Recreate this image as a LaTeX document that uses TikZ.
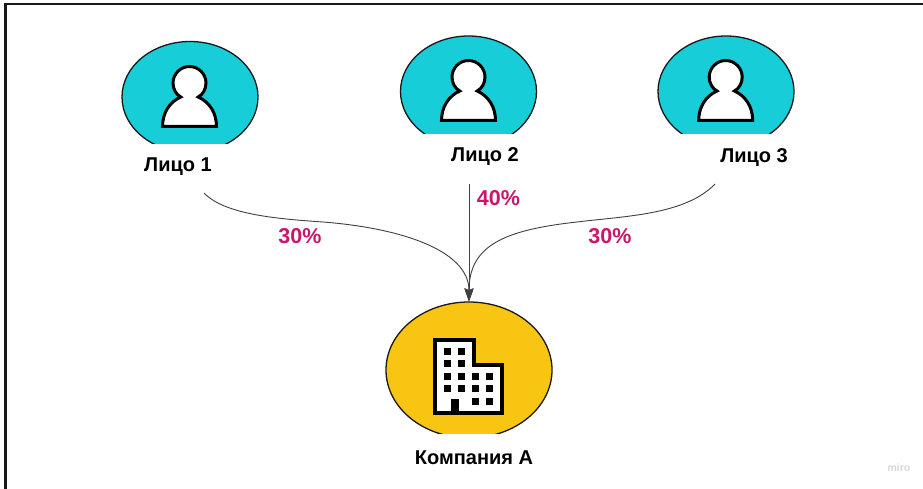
\documentclass[tikz,border=0pt]{standalone}
\usepackage{fontspec}
\setmainfont{Liberation Sans}
\usetikzlibrary{shapes.geometric,arrows.meta}
\definecolor{tealfill}{HTML}{17CDD8}
\definecolor{yellowfill}{HTML}{F9C513}
\definecolor{pct}{HTML}{C9176B}
\definecolor{mirogrey}{HTML}{D6D6DE}
\tikzset{
  x=1pt,y=-1pt,
  headblob/.style={ellipse,draw=black!90,line width=1.3pt,fill=tealfill,inner sep=0pt,minimum width=136pt,minimum height=111pt},
  firmblob/.style={ellipse,draw=black!90,line width=1.3pt,fill=yellowfill,inner sep=0pt,minimum width=166pt,minimum height=136pt},
  lbl/.style={font=\bfseries\fontsize{20}{24}\selectfont,text=black,inner sep=0pt},
  pctlbl/.style={font=\bfseries\fontsize{21.5}{24}\selectfont,text=pct,inner sep=0pt},
  link/.style={draw=black!75,line width=0.9pt,-{Stealth[length=13pt,width=9pt,inset=2pt]}},
  person/.pic={
    \draw[fill=white,line width=3pt,miter limit=4]
      (8.7,32) .. controls (13.5,29.5) and (16.5,24) .. (16.5,18)
      .. controls (16.5,9) and (9,1.5) .. (0,1.5)
      .. controls (-9,1.5) and (-16.5,9) .. (-16.5,18)
      .. controls (-16.5,24) and (-13.5,29.5) .. (-8.7,32)
      .. controls (-20,37) and (-27,48) .. (-27,61.5)
      -- (27,61.5)
      .. controls (27,48) and (20,37) .. (8.7,32) -- cycle;
  },
  winsq/.style={fill=black,draw=none}
}
\begin{document}
\begin{tikzpicture}
\useasboundingbox (0,0) rectangle (923,489);
\fill[white] (0,0) rectangle (923,489);
\draw[line width=2.5pt,black!90] (5.5,489) -- (5.5,4) -- (923,4);

\begin{scope}
  \clip (0,0) rectangle (923,143.5);
  \node[headblob] (e1) at (190,97) {};
\end{scope}
\begin{scope}
  \clip (0,0) rectangle (923,134);
  \node[headblob] (e2) at (468.5,91.5) {};
  \node[headblob] (e3) at (726,91.5) {};
\end{scope}
\begin{scope}
  \clip (0,0) rectangle (923,433.5);
  \node[firmblob] (comp) at (469,370) {};
\end{scope}

\pic at (189.5,65) {person};
\pic at (468.5,59) {person};
\pic at (725.7,59) {person};

% building
\draw[fill=white,line width=4pt,miter limit=4] (435,340) -- (474,340) -- (474,364.5) -- (502,364.5) -- (502,413) -- (435,413) -- cycle;
\foreach \wx/\wy in {447.7/351,461.7/351,447.7/363.3,461.7/363.3,
  447.7/376,461.7/376,475.7/376,489.7/376,
  447.7/388.7,461.7/388.7,475.7/388.7,489.7/388.7,
  475.7/401.7,489.7/401.7}{
  \fill[winsq] (\wx-3.5,\wy-3.5) rectangle (\wx+3.5,\wy+3.5);
}
\fill[winsq] (450.7,398.5) rectangle (459.3,413);

% labels
\node[lbl] (l1) at (178,167) {Лицо 1};
\node[lbl] (l2) at (485,157) {Лицо 2};
\node[lbl] (l3) at (754,158) {Лицо 3};
\node[lbl] (lc) at (474,458) {Компания А};
\node[pctlbl] (p1) at (300,236.5) {30\%};
\node[pctlbl] (p2) at (498.5,198) {40\%};
\node[pctlbl] (p3) at (610,236) {30\%};
\node[font=\bfseries\fontsize{10.5}{12}\selectfont,text=mirogrey,inner sep=0pt] (mark) at (899,468) {miro};

% connectors
\coordinate (s1) at (204,193);
\coordinate (s2) at (469,184);
\coordinate (s3) at (715,184);
\coordinate (m1) at (323,222);
\coordinate (m3) at (577,222);
\draw[link] (s1) .. controls (225,215) and (280,219) .. (m1)
  .. controls (400,228) and (469,250) .. (comp.north);
\draw[link] (s3) .. controls (685,215) and (625,216) .. (m3)
  .. controls (505,230) and (469,245) .. (comp.north);
\draw[link] (s2) -- (comp.north);
\end{tikzpicture}
\end{document}
